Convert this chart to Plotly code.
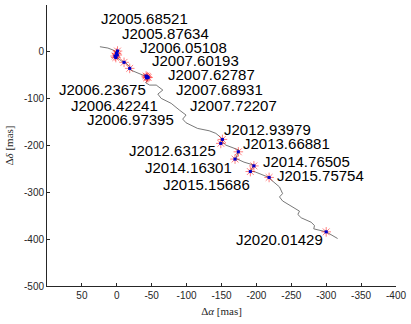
import plotly.graph_objects as go

# observed epochs (labels)
epochs = ["J2005.68521", "J2005.87634", "J2006.05108", "J2006.02105", "J2006.23675",
          "J2006.42241", "J2006.97395", "J2007.60193", "J2007.62787", "J2007.68931",
          "J2007.72207", "J2012.63125", "J2012.93979", "J2013.66881", "J2014.16301",
          "J2014.76505", "J2015.15686", "J2015.75754", "J2020.01429"]

# measured offsets [mas]
ra_obs = [-1.0, 0.4, 2.4, 1.4, -0.7, -10.4, -18.5, -42.0, -43.7, -44.8, -42.7,
          -149.0, -151.3, -174.1, -169.4, -196.4, -191.3, -218.2, -300.0]
dec_obs = [1.7, -3.2, -9.0, -12.2, -6.8, -22.4, -35.3, -51.7, -53.2, -54.9, -55.6,
           -195.5, -187.0, -213.5, -229.0, -243.6, -255.6, -268.2, -384.4]
ra_err = [2.0] * 19
dec_err = [2.5] * 19

# model track [mas]
track_ra = [24.2, 12.8, 5.3, 0.0, 1.4, -1.4, -6.7, -11.4, -18.5, -19.9, -32.7, -43.1,
            -44.6, -41.3, -47.0, -56.5, -65.9, -58.8, -63.6, -77.9, -89.7, -99.2, -94.4,
            -99.2, -115.7, -132.4, -141.9, -149.0, -151.3, -156.2, -175.1, -170.4, -182.2,
            -196.4, -191.7, -198.9, -216.2, -233.1, -237.5, -233.1, -237.5, -251.5, -261.7,
            -259.4, -264.2, -278.4, -283.2, -282.2, -298.9, -300.0, -316.3]
track_dec = [10.9, 8.1, 3.8, -0.4, -9.0, -13.2, -19.7, -21.2, -31.8, -38.9, -47.4, -53.2,
             -60.3, -66.0, -71.0, -71.0, -81.6, -90.2, -99.4, -110.0, -124.4, -135.0, -143.6,
             -151.5, -163.5, -168.6, -174.1, -182.7, -192.1, -199.2, -209.8, -227.6, -235.5,
             -241.9, -254.1, -256.8, -267.1, -288.5, -302.7, -309.8, -318.4, -331.2, -340.2,
             -347.3, -354.4, -363.8, -370.9, -378.0, -384.2, -384.4, -398.6]

lab_x = [25.2, -4.3, -30.9, 112.5, 85.8, 67.9, 45.6, -47.0, -69.8, -82.6, -101.5,
         -14.7, -150.5, -177.5, -37.0, -206.8, -63.6, -227.3, -168.0]
lab_y = [71.6, 39.5, 8.8, -47.4, -80.1, -113.7, -144.2, -19.0, -47.4, -79.5, -113.7,
         -209.8, -165.6, -195.5, -246.8, -233.3, -282.5, -263.2, -400.0]

fig = go.Figure()
fig.add_trace(go.Scatter(x=track_ra, y=track_dec, mode="lines",
                         line=dict(color="#555555", width=0.8), hoverinfo="skip"))
fig.add_trace(go.Scatter(x=ra_obs, y=dec_obs, mode="markers",
                         marker=dict(symbol="asterisk-open", size=8, color="rgba(255,0,0,0.5)",
                                     line=dict(color="rgba(255,0,0,0.5)", width=1))))
fig.add_trace(go.Scatter(x=ra_obs, y=dec_obs, mode="markers",
                         error_x=dict(type="data", array=ra_err, color="blue", thickness=1, width=0),
                         error_y=dict(type="data", array=dec_err, color="blue", thickness=1, width=0),
                         marker=dict(symbol="square", size=3, color="#0000cc")))

for t, x, y in zip(epochs, lab_x, lab_y):
    fig.add_annotation(x=x, y=y, text=t, showarrow=False, xanchor="left", yanchor="middle",
                       font=dict(family="Liberation Sans, Arial, sans-serif", size=15, color="black"))

axis_common = dict(showline=True, linecolor="#262626", linewidth=1, ticks="inside", ticklen=3,
                   tickcolor="#262626", showgrid=False, zeroline=False,
                   tickfont=dict(family="Liberation Sans, Arial, sans-serif", size=10, color="#262626"))
fig.update_xaxes(range=[100, -400], tickvals=[50, 0, -50, -100, -150, -200, -250, -300, -350, -400],
                 ticktext=["50", "0", "-50", "-100", "-150", "-200", "-250", "-300", "-350", "-400"],
                 title=dict(text="Δ<i>α</i> [mas]", standoff=7,
                            font=dict(family="Liberation Serif, serif", size=11, color="#262626")),
                 **axis_common)
fig.update_yaxes(range=[-500, 100], tickvals=[0, -100, -200, -300, -400, -500],
                 ticktext=["0", "-100", "-200", "-300", "-400", "-500"],
                 title=dict(text="Δ<i>δ</i> [mas]", standoff=8,
                            font=dict(family="Liberation Serif, serif", size=11, color="#262626")),
                 **axis_common)
fig.update_layout(width=411, height=324, margin=dict(l=47, r=13, t=5, b=38),
                  plot_bgcolor="white", paper_bgcolor="white", showlegend=False)
fig.write_html("out.html")
